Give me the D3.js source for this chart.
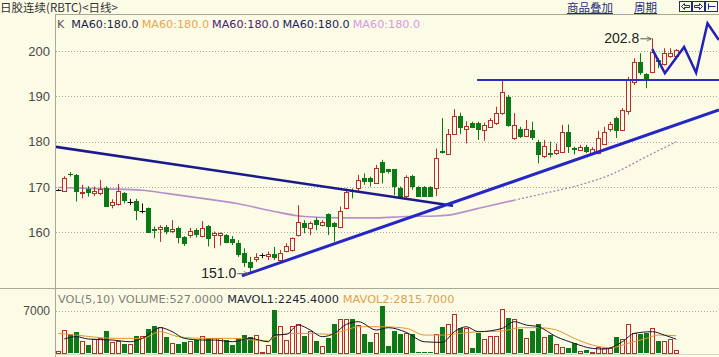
<!DOCTYPE html>
<html>
<head>
<meta charset="utf-8">
<script src="https://cdn.jsdelivr.net/npm/d3@7"></script>
<style>
  body { margin: 0; background: #fcfce6; }
  svg { display: block; }
</style>
</head>
<body>
<svg id="chart" width="719" height="357"></svg>
<script>
// Daily bars (bar index 0..103).
const openP = [169.4,169.2,172.9,172.7,168.6,169.5,168.6,168.6,169.9,166.0,166.2,168.6,166.6,166.9,164.8,165.3,160.7,160.7,161.1,160.2,
  160.9,158.9,159.4,160.5,159.1,161.4,159.4,159.5,159.4,158.5,157.6,155.4,153.5,154.2,155.0,154.8,155.2,153.9,155.8,156.1,
  159.4,162.0,160.9,162.7,161.6,164.0,162.0,161.1,165.3,169.4,169.9,172.1,171.9,171.0,175.6,173.9,173.9,169.9,168.0,172.4,
  170.0,170.0,170.0,169.7,178.0,177.2,181.8,185.6,182.9,184.2,184.2,182.6,183.3,184.1,186.3,189.9,180.8,182.7,181.3,182.6,
  180.0,176.8,177.6,177.5,177.7,182.1,178.7,178.2,178.9,177.5,177.5,179.6,182.8,185.2,182.6,186.8,193.2,197.5,194.9,195.3,
  198.0,197.1,198.8,199.0];
const highP = [169.6,172.4,173.3,172.9,170.5,170.2,170.1,171.6,170.2,167.3,170.7,168.9,167.4,167.4,166.4,165.5,161.3,161.6,161.6,162.7,
  161.3,159.2,161.0,160.9,162.5,161.6,160.2,160.0,159.6,159.2,158.3,156.5,154.6,155.4,155.4,155.8,156.8,156.1,157.6,158.9,
  166.0,162.7,162.4,163.3,162.7,164.2,162.3,165.7,169.7,169.7,172.7,173.0,172.3,174.9,176.0,174.0,174.0,170.1,172.6,172.7,
  170.2,170.2,170.2,178.5,185.2,182.8,187.2,186.4,184.5,184.4,184.4,184.2,185.2,187.7,193.5,190.3,186.3,183.3,184.8,184.4,
  180.4,180.4,180.0,179.6,183.7,183.8,178.9,179.3,179.3,178.8,182.4,183.3,184.4,185.5,187.4,194.3,198.4,199.5,195.1,202.8,
  198.4,200.6,200.6,200.4];
const lowP = [169.1,169.0,172.3,166.8,167.5,167.9,168.0,168.2,165.6,165.3,165.9,166.4,166.0,162.7,164.2,159.9,158.7,157.9,159.6,159.9,
  157.6,157.0,158.8,158.9,158.9,156.9,156.5,157.1,157.6,157.2,154.6,152.4,151.0,153.5,154.3,153.9,153.9,153.9,155.6,155.8,
  159.1,159.8,159.4,160.5,161.3,159.4,158.0,160.9,165.1,167.5,169.0,170.5,170.1,170.8,170.8,173.0,168.2,167.5,167.5,169.4,
  167.8,167.8,167.8,168.0,177.4,177.1,181.5,181.7,179.6,183.0,180.4,180.2,183.0,183.7,185.9,183.3,180.4,180.8,181.1,180.4,
  175.2,176.4,176.5,177.1,177.5,177.5,177.2,178.0,177.5,177.4,177.2,179.3,182.2,180.8,182.4,186.0,192.5,194.7,191.8,195.1,
  196.2,196.8,198.5,198.8];
const closeP = [169.4,171.9,172.7,169.0,168.9,168.6,169.2,169.6,165.7,166.8,169.2,167.0,166.6,164.8,164.8,159.9,160.4,161.3,160.0,160.8,
  158.7,157.4,160.3,159.4,160.9,158.5,159.8,159.8,157.7,157.6,155.0,153.2,152.1,154.6,155.0,155.2,154.3,155.5,156.9,158.7,
  162.4,160.9,162.0,161.6,162.2,161.3,161.3,164.7,169.0,169.0,171.6,171.2,171.2,174.1,173.0,173.4,170.1,167.9,172.2,170.1,
  167.9,167.9,167.9,176.3,177.5,181.8,185.6,183.1,183.5,183.1,182.6,183.7,184.8,186.3,191.0,183.5,183.7,181.1,182.7,180.8,
  177.1,179.1,177.1,178.2,182.2,178.9,178.2,178.9,177.7,178.5,180.8,182.2,183.8,182.4,187.0,193.6,197.6,195.1,193.8,199.8,
  197.5,199.5,199.5,200.2];
const volume = [300,3780,3060,3440,1940,1280,2280,2390,3610,1830,1940,1440,1440,2780,2780,3940,4440,4220,2670,1560,
  1440,1830,2000,2110,2830,2390,2390,2390,2110,1280,2390,2940,2670,2940,150,1280,7050,4440,2110,4440,
  4720,2830,3610,1940,1110,2500,4780,5560,5560,5560,4610,3060,1830,3330,7780,1110,3610,3060,3220,3110,
  100,100,100,3060,4330,4780,6390,4170,4060,830,3220,2220,2830,2830,7220,5720,5560,3890,2500,3610,
  4720,2670,2940,1390,1000,720,1560,280,440,170,1000,720,830,2560,2220,4780,3330,3060,3220,4170,
  1940,1940,2220,527];

// Moving averages, sampled at the bars where they were read.
const maIdx = [0,8,14,18,24,30,36,41,47,53,58,63,65,70,76,81,87,92,98,103];
const maVal = [169.9,169.6,169.3,168.6,167.5,166.3,164.6,163.5,163.2,163.2,163.5,163.6,163.8,165.3,167.1,168.6,170.5,172.7,176.7,180.0];
const mavol1Idx = [1,3,5,9,12,14,17,19,21,24,26,29,32,35,36,38,40,42,44,46,48,50,53,55,58,61,64,66,68,70,74,76,78,80,83,86,89,91,94,96,99,101,103];
const mavol1 = [2280,2670,2280,2110,1830,2390,4170,3500,2390,2110,2110,1830,2390,1830,2940,3060,4610,3780,2670,3220,4720,5170,3780,4170,3390,1830,1720,3500,4330,3500,4060,5170,4610,4330,2670,1560,720,610,1830,3220,3500,2940,2245];
const mavol2Idx = [0,3,7,10,14,17,20,24,29,35,36,39,42,45,48,50,54,58,61,64,67,70,74,77,80,83,86,89,92,95,98,100,103];
const mavol2 = [3220,2940,2500,2390,2390,3500,2670,2390,2390,1940,2670,3220,3220,3060,3780,4330,4330,4060,2940,2940,3220,3500,3610,4170,4170,3780,2390,1280,830,1560,2390,2940,2816];

const yTicks = [160, 170, 180, 190, 200];
const volTicks = [7000];

// Hand drawn lines on the chart, as [bar index, price].
const trendDown = [[-0.6, 178.9], [65.8, 165.9]];
const trendUp = [[30.6, 150.4], [110.1, 187.0]];
const resistance = [[69.8, 193.6], [111, 193.6]];
const zigzag = [[99, 200.4], [101.1, 195.1], [104.3, 200.9], [106.3, 195.2], [108.2, 206.1], [110.1, 202.4]];

const lowMark = { i: 32, v: 151.0 },
  highMark = { i: 99, v: 202.8 };

(function () {
  const bg = "#fcfce6",
    upColor = "#c02a2a",
    downColor = "#0b7a16",
    gridColor = "#a8a898";

  const svg = d3.select("#chart");
  svg.append("rect").attr("width", 719).attr("height", 357).attr("fill", bg);

  // Scales.
  const x = d3.scaleLinear().domain([0, 103]).range([58.3, 676.3]);
  const y = d3.scaleLinear().domain([160, 200]).range([232.4, 51]);
  const yv = d3.scaleLinear().domain([0, 7000]).range([352.7, 310.7]);
  const cx = (i) => Math.round(x(i)) + 0.5;

  const defs = svg.append("defs");
  defs.append("clipPath").attr("id", "mainClip")
    .append("rect").attr("x", 56).attr("y", 15).attr("width", 663).attr("height", 273);
  defs.append("clipPath").attr("id", "volClip")
    .append("rect").attr("x", 56).attr("y", 289).attr("width", 663).attr("height", 66);
  defs.append("marker").attr("id", "arr").attr("viewBox", "0 0 8 8")
    .attr("refX", 7).attr("refY", 4).attr("markerWidth", 6).attr("markerHeight", 6)
    .attr("orient", "auto")
    .append("path").attr("d", "M1,1L7,4L1,7").attr("fill", "none").attr("stroke", "#555").attr("stroke-width", 1);

  // Frame lines.
  const frame = svg.append("g").attr("stroke", "#a9a995").attr("stroke-width", 1);
  frame.append("line").attr("x1", 55.5).attr("x2", 55.5).attr("y1", 14).attr("y2", 357);
  frame.append("line").attr("x1", 55).attr("x2", 719).attr("y1", 14.5).attr("y2", 14.5);
  frame.append("line").attr("x1", 0).attr("x2", 719).attr("y1", 288.5).attr("y2", 288.5);
  frame.append("line").attr("x1", 55).attr("x2", 719).attr("y1", 354.5).attr("y2", 354.5).attr("stroke", "#d8d8c4");

  // Grid lines and tick labels.
  svg.append("g").selectAll("line").data(yTicks).enter().append("line")
    .attr("x1", 56).attr("x2", 719)
    .attr("y1", (d) => Math.round(y(d)) + 0.5).attr("y2", (d) => Math.round(y(d)) + 0.5)
    .attr("stroke", gridColor).attr("stroke-dasharray", "1,2");
  svg.append("g").selectAll("text").data(yTicks).enter().append("text")
    .attr("x", 50).attr("y", (d) => y(d) + 4.5)
    .attr("text-anchor", "end")
    .attr("font-family", "Liberation Sans, Arial, sans-serif").attr("font-size", 13)
    .attr("fill", "#4a4a4a")
    .text((d) => d);
  svg.append("g").selectAll("line").data(volTicks).enter().append("line")
    .attr("x1", 56).attr("x2", 719)
    .attr("y1", (d) => Math.round(yv(d)) + 0.5).attr("y2", (d) => Math.round(yv(d)) + 0.5)
    .attr("stroke", gridColor).attr("stroke-dasharray", "1,2");
  svg.append("g").selectAll("text").data(volTicks).enter().append("text")
    .attr("x", 50).attr("y", (d) => yv(d) + 4.5)
    .attr("text-anchor", "end")
    .attr("font-family", "Liberation Sans, Arial, sans-serif").attr("font-size", 12)
    .attr("fill", "#4a4a4a")
    .text((d) => d);

  const main = svg.append("g").attr("clip-path", "url(#mainClip)");

  // Moving average: solid first, dotted towards the end.
  const maPts = maIdx.map((d, k) => [d, maVal[k]]);
  const maLine = d3.line().x((d) => x(d[0])).y((d) => y(d[1])).curve(d3.curveMonotoneX);
  main.append("path").datum(maPts.filter((d) => d[0] <= 76))
    .attr("d", maLine).attr("fill", "none").attr("stroke", "#b890c8").attr("stroke-width", 1.6);
  main.append("path").datum(maPts.filter((d) => d[0] >= 76))
    .attr("d", maLine).attr("fill", "none").attr("stroke", "#a880b8").attr("stroke-width", 1.3)
    .attr("stroke-dasharray", "2,2");

  // Candles.
  const bars = d3.range(openP.length).map((i) => ({
    i, o: openP[i], h: highP[i], l: lowP[i], c: closeP[i], v: volume[i],
  }));
  const candle = main.selectAll(".candle").data(bars).enter().append("g");
  candle.each(function (d) {
    const g = d3.select(this),
      px = cx(d.i),
      top = Math.round(y(Math.max(d.o, d.c))),
      bot = Math.round(y(Math.min(d.o, d.c)));
    if (d.c > d.o) {
      g.append("line").attr("x1", px).attr("x2", px).attr("y1", y(d.h)).attr("y2", top + 0.5).attr("stroke", upColor);
      g.append("line").attr("x1", px).attr("x2", px).attr("y1", bot + 0.5).attr("y2", y(d.l)).attr("stroke", upColor);
      g.append("rect").attr("x", px - 2).attr("y", top + 0.5).attr("width", 4).attr("height", Math.max(1, bot - top))
        .attr("fill", bg).attr("stroke", upColor);
    } else if (d.c < d.o) {
      g.append("line").attr("x1", px).attr("x2", px).attr("y1", y(d.h)).attr("y2", y(d.l)).attr("stroke", downColor);
      g.append("rect").attr("x", px - 2.5).attr("y", top).attr("width", 5).attr("height", Math.max(1, bot - top))
        .attr("fill", downColor);
    } else {
      g.append("line").attr("x1", px).attr("x2", px).attr("y1", y(d.h)).attr("y2", y(d.l)).attr("stroke", "#111");
      g.append("line").attr("x1", px - 3).attr("x2", px + 3).attr("y1", top + 0.5).attr("y2", top + 0.5).attr("stroke", "#111");
    }
  });

  // Drawn trend lines.
  const pLine = d3.line().x((d) => x(d[0])).y((d) => y(d[1]));
  main.append("path").datum(trendDown).attr("d", pLine).attr("fill", "none").attr("stroke", "#1a1a8c").attr("stroke-width", 2.5);
  main.append("path").datum(trendUp).attr("d", pLine).attr("fill", "none").attr("stroke", "#2626c4").attr("stroke-width", 3);
  main.append("path").datum(resistance).attr("d", pLine).attr("fill", "none").attr("stroke", "#2a2ec8").attr("stroke-width", 2);
  main.append("path").datum(zigzag).attr("d", pLine).attr("fill", "none").attr("stroke", "#2020b8").attr("stroke-width", 2.5)
    .attr("stroke-linejoin", "miter");

  // Low / high marks.
  const mark = svg.append("g").attr("font-family", "Liberation Sans, Arial, sans-serif").attr("font-size", 14).attr("fill", "#222");
  mark.append("text").attr("x", x(lowMark.i) - 14).attr("y", y(lowMark.v) + 5).attr("text-anchor", "end").text(lowMark.v.toFixed(1));
  mark.append("line").attr("x1", x(lowMark.i) - 13).attr("x2", x(lowMark.i) - 2)
    .attr("y1", y(lowMark.v) + 0.5).attr("y2", y(lowMark.v) + 0.5)
    .attr("stroke", "#555").attr("marker-end", "url(#arr)");
  mark.append("text").attr("x", x(highMark.i) - 13).attr("y", y(highMark.v) + 5).attr("text-anchor", "end").text(highMark.v.toFixed(1));
  mark.append("line").attr("x1", x(highMark.i) - 12).attr("x2", x(highMark.i) - 1)
    .attr("y1", y(highMark.v) + 0.5).attr("y2", y(highMark.v) + 0.5)
    .attr("stroke", "#555").attr("marker-end", "url(#arr)");

  // Volume panel.
  const vol = svg.append("g").attr("clip-path", "url(#volClip)");
  vol.selectAll(".vb").data(bars).enter().append("rect")
    .attr("x", (d) => (d.c >= d.o ? cx(d.i) - 2 : cx(d.i) - 2.5))
    .attr("width", (d) => (d.c >= d.o ? 4 : 5))
    .attr("y", (d) => (d.c >= d.o ? Math.round(yv(d.v)) + 0.5 : Math.round(yv(d.v))))
    .attr("height", (d) => Math.max(0.5, Math.round(yv(0)) - Math.round(yv(d.v))))
    .attr("fill", (d) => (d.c >= d.o ? bg : downColor))
    .attr("stroke", (d) => (d.c >= d.o ? upColor : "none"));

  const vLine = d3.line().x((d) => x(d[0])).y((d) => yv(d[1])).curve(d3.curveMonotoneX);
  vol.append("path").datum(mavol2Idx.map((d, k) => [d, mavol2[k]]))
    .attr("d", vLine).attr("fill", "none").attr("stroke", "#e0962c").attr("stroke-width", 1);
  vol.append("path").datum(mavol1Idx.map((d, k) => [d, mavol1[k]]))
    .attr("d", vLine).attr("fill", "none").attr("stroke", "#15152e").attr("stroke-width", 1);

  // Header texts.
  const hdrFont = "DejaVu Sans, Verdana, sans-serif";
  svg.append("text").attr("x", 0).attr("y", 12)
    .attr("font-family", "Noto Sans CJK SC, sans-serif").attr("font-size", 11.5).attr("fill", "#333")
    .text("日胶连续(RBTC)<日线>");

  const links = [["商品叠加", 567], ["周期", 634]];
  links.forEach((l) => {
    const t = svg.append("text").attr("x", l[1]).attr("y", 11.5)
      .attr("font-family", "Noto Sans CJK SC, sans-serif").attr("font-size", 11.5).attr("fill", "#1e2c80")
      .text(l[0]);
    const w = t.node().getComputedTextLength();
    svg.append("line").attr("x1", l[1]).attr("x2", l[1] + w).attr("y1", 13.5).attr("y2", 13.5).attr("stroke", "#1e2c80");
  });
  const icons = svg.append("g").attr("fill", "none").attr("stroke", "#1e2c80").attr("stroke-width", 1);
  [679.5, 692.5, 705.5].forEach((bx, k) => {
    icons.append("rect").attr("x", bx).attr("y", 1.5).attr("width", 12).attr("height", 10);
    if (k === 0) icons.append("path").attr("d", `M${bx + 2},6.5L${bx + 5},3.5V5.5H${bx + 10}V7.5H${bx + 5}V9.5Z`);
    if (k === 1) icons.append("path").attr("d", `M${bx + 10},6.5L${bx + 7},3.5V5.5H${bx + 2}V7.5H${bx + 7}V9.5Z`);
    if (k === 2) icons.append("path").attr("d", `M${bx + 3},3.5V9.5M${bx + 3},6.5H${bx + 10}`);
  });

  const hdr = svg.append("text").attr("x", 57).attr("y", 28)
    .attr("font-family", hdrFont).attr("font-size", 11.2);
  hdr.append("tspan").attr("fill", "#555").text("K");
  const maColors = ["#1c1c4c", "#eaa54e", "#4a2070", "#1c1c64", "#d898e4"];
  maColors.forEach((c, k) => {
    hdr.append("tspan").attr("fill", c).attr("dx", k === 0 ? 7 : 3).text("MA60:" + maVal[maVal.length - 1].toFixed(1));
  });

  const vh = svg.append("text").attr("x", 58).attr("y", 303)
    .attr("font-family", hdrFont).attr("font-size", 11.3);
  vh.append("tspan").attr("fill", "#808078").text("VOL(5,10) VOLUME:" + volume[volume.length - 1].toFixed(4));
  vh.append("tspan").attr("fill", "#202838").attr("dx", 4).text("MAVOL1:2245.4000");
  vh.append("tspan").attr("fill", "#e0a050").attr("dx", 4).text("MAVOL2:2815.7000");
})();
</script>
</body>
</html>
